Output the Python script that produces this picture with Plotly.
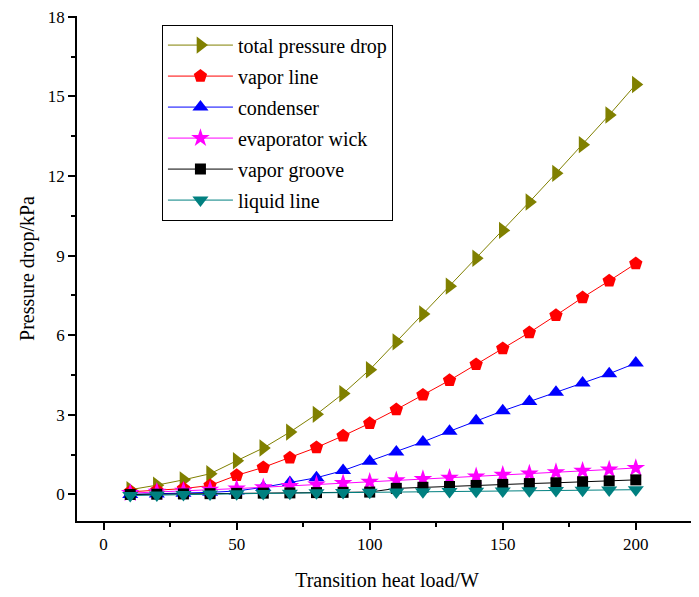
import plotly.graph_objects as go

heat_load = [10, 20, 30, 40, 50, 60, 70, 80, 90, 100, 110, 120, 130, 140, 150, 160, 170, 180, 190, 200]
total_drop = [0.18, 0.35, 0.55, 0.78, 1.27, 1.75, 2.35, 3.02, 3.8, 4.7, 5.75, 6.8, 7.85, 8.9, 9.95, 11.02, 12.1, 13.18, 14.3, 15.45]
vapor_line = [0.1, 0.15, 0.22, 0.34, 0.72, 1.02, 1.38, 1.77, 2.21, 2.68, 3.2, 3.75, 4.3, 4.9, 5.5, 6.1, 6.75, 7.42, 8.05, 8.7]
condenser = [0.0, 0.02, 0.05, 0.08, 0.13, 0.27, 0.45, 0.63, 0.9, 1.25, 1.6, 1.98, 2.38, 2.78, 3.15, 3.5, 3.85, 4.2, 4.55, 4.95]
evap_wick = [0.05, 0.1, 0.14, 0.18, 0.22, 0.27, 0.32, 0.37, 0.43, 0.48, 0.53, 0.58, 0.63, 0.68, 0.74, 0.79, 0.84, 0.89, 0.94, 1.0]
vapor_groove = [0.0, 0.01, 0.02, 0.03, 0.04, 0.05, 0.06, 0.07, 0.08, 0.09, 0.23, 0.27, 0.3, 0.34, 0.38, 0.41, 0.44, 0.48, 0.51, 0.55]
liquid_line = [-0.04, -0.02, 0.0, 0.02, 0.03, 0.04, 0.05, 0.06, 0.07, 0.08, 0.09, 0.1, 0.11, 0.12, 0.13, 0.14, 0.15, 0.16, 0.17, 0.18]

series = [
    ("total pressure drop", total_drop, "#808000", "triangle-right", 15),
    ("vapor line", vapor_line, "#ff0000", "pentagon", 14),
    ("condenser", condenser, "#0000ff", "triangle-up", 14),
    ("evaporator wick", evap_wick, "#ff00ff", "star", 14),
    ("vapor groove", vapor_groove, "#000000", "square", 11),
    ("liquid line", liquid_line, "#008080", "triangle-down", 14),
]

fig = go.Figure()
for i, (name, vals, color, sym, size) in enumerate(series):
    fig.add_trace(go.Scatter(
        x=heat_load, y=vals, name=name, mode="lines+markers",
        legendgroup=f"g{i}",
        line=dict(color=color, width=1),
        marker=dict(symbol=sym, size=size, color=color, line=dict(width=0)),
    ))

font = "Times New Roman, Liberation Serif, serif"
fig.update_layout(
    width=691, height=589,
    margin=dict(l=69, r=2, t=8, b=76),
    paper_bgcolor="white", plot_bgcolor="white",
    font=dict(family=font, size=16, color="black"),
    legend=dict(
        x=0.137, y=0.983, xanchor="left", yanchor="top",
        bordercolor="black", borderwidth=1, bgcolor="white",
        font=dict(family=font, size=20, color="black"),
        tracegroupgap=2, itemwidth=65,
    ),
    xaxis=dict(
        range=[-10, 223], tickvals=[0, 50, 100, 150, 200],
        automargin=False,
        showgrid=False, zeroline=False, showline=True, linecolor="black", linewidth=1.5,
        ticks="outside", ticklen=7, tickwidth=1.5, tickcolor="black",
        minor=dict(tickvals=[25, 75, 125, 175], ticks="outside", ticklen=4, tickwidth=1.5, tickcolor="black"),
        tickfont=dict(family=font, size=17, color="black"),
        title=dict(text="Transition heat load/W", font=dict(family=font, size=20, color="black"), standoff=20),
    ),
    yaxis=dict(
        range=[-1, 18.03], tickvals=[0, 3, 6, 9, 12, 15, 18],
        automargin=False, ticklabeloverflow="allow",
        showgrid=False, zeroline=False, showline=True, linecolor="black", linewidth=1.5,
        ticks="outside", ticklen=7, tickwidth=1.5, tickcolor="black",
        minor=dict(tickvals=[1.5, 4.5, 7.5, 10.5, 13.5, 16.5], ticks="outside", ticklen=4, tickwidth=1.5, tickcolor="black"),
        tickfont=dict(family=font, size=17, color="black"),
        title=dict(text="Pressure drop/kPa", font=dict(family=font, size=20, color="black"), standoff=8),
    ),
)

fig.write_html("out.html")
